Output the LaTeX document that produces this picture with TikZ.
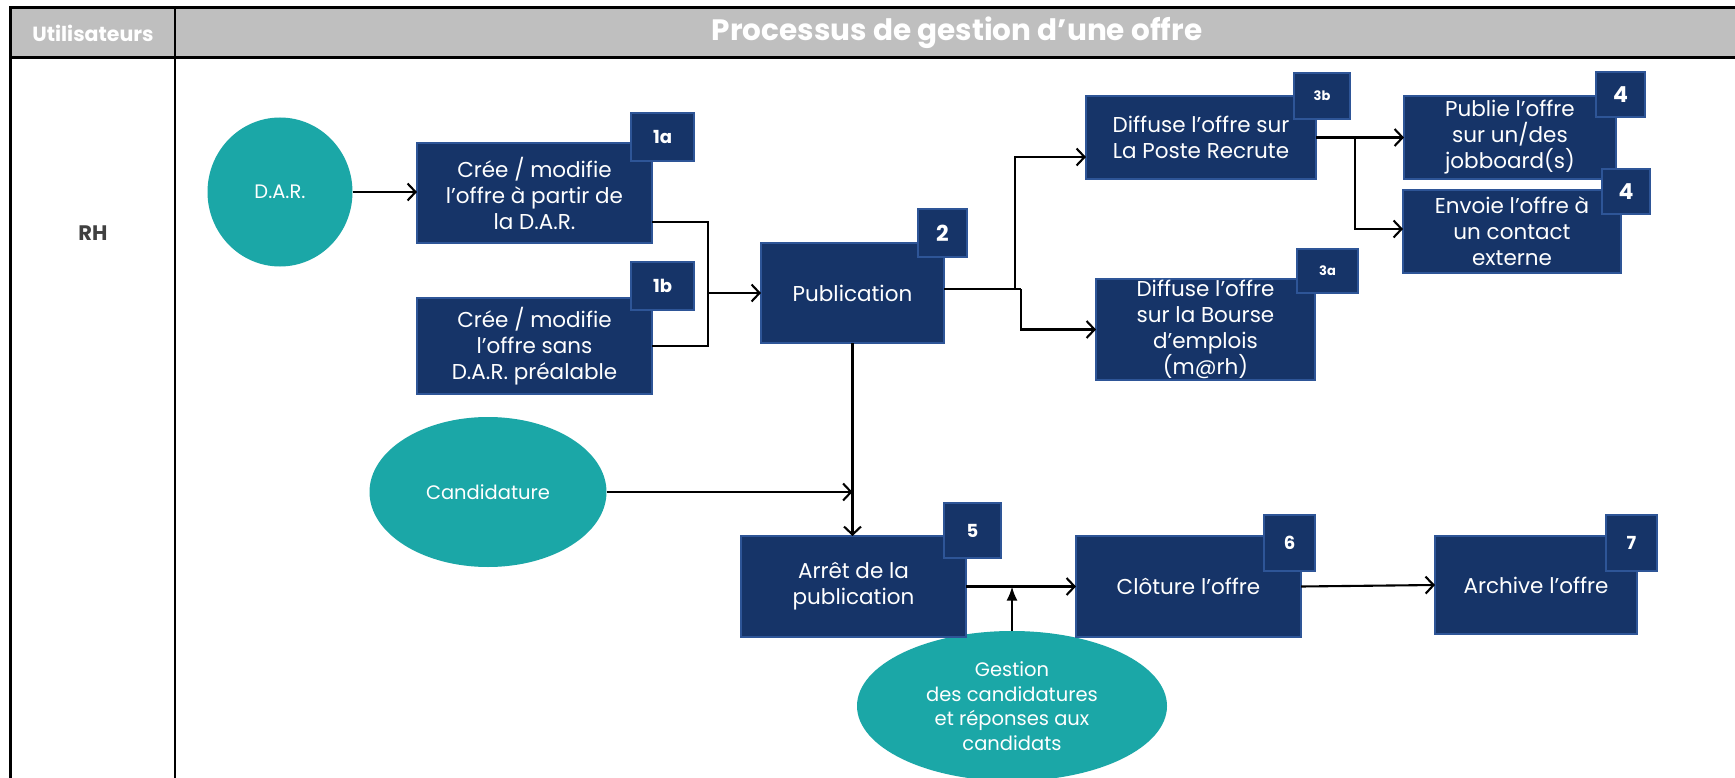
\documentclass[tikz,border=0pt]{standalone}
\usepackage{fontspec}
\setmainfont{Poppins}
\usetikzlibrary{arrows.meta,shapes.geometric,calc}
\definecolor{navyc}{HTML}{163468}
\definecolor{navyb}{HTML}{2E5597}
\definecolor{tealc}{HTML}{1BA7A7}
\definecolor{hdrc}{HTML}{BFBFBF}
\definecolor{rhc}{HTML}{404040}
\begin{document}
\begin{tikzpicture}[x=1pt,y=-1pt,
  box/.style={draw=navyb, line width=1.2pt, fill=navyc, text=white, align=center,
    font=\fontsize{21.5}{26}\selectfont, inner sep=0pt, outer sep=0pt},
  badge/.style={draw=navyb, line width=1.2pt, fill=navyc, text=white, inner sep=0pt,
    outer sep=0pt, font=\bfseries\fontsize{18}{22}\selectfont},
  oval/.style={ellipse, fill=tealc, text=white, align=center, inner sep=0pt,
    outer sep=0pt, font=\fontsize{19.5}{24.5}\selectfont},
  ln/.style={line width=2.1pt},
  arr/.style={line width=2.1pt, -{Straight Barb[length=8pt,width=17pt,line width=2.1pt]}},
  hdrtxt/.style={text=white, font=\bfseries\fontsize{20.5}{22}\selectfont, inner sep=0pt},
]
\clip (0,0) rectangle (1735,778);
\fill[white] (0,0) rectangle (1735,778);
% header
\fill[hdrc] (10,8) rectangle (1735,58);
\draw[line width=3pt] (1735,8) -- (10,8) -- (10,778);
\draw[line width=3pt] (10,58) -- (1735,58);
\draw[line width=2.5pt] (175,8) -- (175,778);
\node[hdrtxt] (hu) at (93,33) {Utilisateurs};
\node[hdrtxt, font=\bfseries\fontsize{29.5}{32}\selectfont] (ht) at (957,33) {Processus de gestion d’une offre};
\node[text=rhc, font=\bfseries\fontsize{21}{22}\selectfont, inner sep=0pt] (rh) at (93,233) {RH};

% ovals
\node[oval, minimum width=145pt, minimum height=149pt] (dar) at (280,192) {D.A.R.};
\node[oval, minimum width=237pt, minimum height=150pt] (cand) at (488,492) {Candidature};
\node[oval, minimum width=310pt, minimum height=150pt] (gest) at (1012,706) {Gestion\\des candidatures\\et réponses aux\\candidats};

% boxes
\node[box, minimum width=235pt, minimum height=100pt] (b1a) at (534.5,193) {Crée / modifie\\l’offre à partir de\\la D.A.R.};
\node[badge, minimum width=63pt, minimum height=48pt] (k1a) at (662.5,137) {1a};
\node[box, minimum width=235pt, minimum height=96pt] (b1b) at (534.5,346) {Crée / modifie\\l’offre sans\\D.A.R. préalable};
\node[badge, minimum width=63pt, minimum height=48pt] (k1b) at (662.5,286) {1b};
\node[box, minimum width=183pt, minimum height=100pt] (pub) at (852.5,293) {Publication};
\node[badge, minimum width=49pt, minimum height=48pt, font=\bfseries\fontsize{22}{24}\selectfont] (k2) at (942.5,233) {2};
\node[box, minimum width=230pt, minimum height=83pt] (b3b) at (1201,137.5) {Diffuse l'offre sur\\La Poste Recrute};
\node[badge, minimum width=56pt, minimum height=46pt, font=\bfseries\fontsize{13}{16}\selectfont] (k3b) at (1322,96) {3b};
\node[box, minimum width=219pt, minimum height=101pt] (b3a) at (1205.5,329.5) {Diffuse l'offre\\sur la Bourse\\d’emplois\\(m@rh)};
\node[badge, minimum width=61pt, minimum height=44pt, font=\bfseries\fontsize{13}{16}\selectfont] (k3a) at (1327.5,271) {3a};
\node[box, minimum width=212pt, minimum height=83pt] (b4a) at (1510,137.5) {Publie l’offre\\sur un/des\\jobboard(s)};
\node[badge, minimum width=49pt, minimum height=45pt, font=\bfseries\fontsize{22}{24}\selectfont] (k4a) at (1620.5,94.5) {4};
\node[box, minimum width=218pt, minimum height=83pt] (b4b) at (1512,231.5) {Envoie l’offre à\\un contact\\externe};
\node[badge, minimum width=48pt, minimum height=45pt, font=\bfseries\fontsize{22}{24}\selectfont] (k4b) at (1626,191.5) {4};
\node[box, minimum width=225pt, minimum height=101pt] (b5) at (853.5,586.5) {Arrêt de la\\publication};
\node[badge, minimum width=57pt, minimum height=55pt] (k5) at (972.5,530.5) {5};
\node[box, minimum width=225pt, minimum height=101pt] (b6) at (1188.5,586.5) {Clôture l'offre};
\node[badge, minimum width=51pt, minimum height=56pt] (k6) at (1289.5,543) {6};
\node[box, minimum width=202pt, minimum height=98pt] (b7) at (1536,585) {Archive l'offre};
\node[badge, minimum width=51pt, minimum height=56pt] (k7) at (1631.5,543) {7};

% connectors
\coordinate (m) at (708,293);
\coordinate (p1) at (1015,289);
\coordinate (p2) at (1021,289);
\coordinate (q) at (1355,137.5);
\draw[arr] (dar) -- (b1a.west |- dar);
\draw[ln] ($(b1a.south east)+(0,-21)$) -| (m);
\draw[ln] (b1b.east) -| (m);
\draw[arr] (m) -- (pub.west);
\draw[ln] (pub.east |- p1) -- (p2);
\draw[arr] (p1) |- ($(b3b.west)+(0,19.5)$);
\draw[arr] (p2) |- (b3a.west);
\draw[arr] (b3b.east) -- (b4a.west);
\draw[arr] (q) |- ($(b4b.west)+(0,-2.5)$);
\draw[arr] (pub.south) -- (pub.south |- b5.north);
\draw[arr] (cand.east) -- (cand.east -| pub.south);
\draw[arr] (b5.east) -- (b6.west);
\draw[line width=2.1pt, -{Latex[length=14pt,width=11pt]}] (gest.north) -- (gest.north |- b5.east);
\draw[arr] (b6.east) -- (b7.west);
\end{tikzpicture}
\end{document}
